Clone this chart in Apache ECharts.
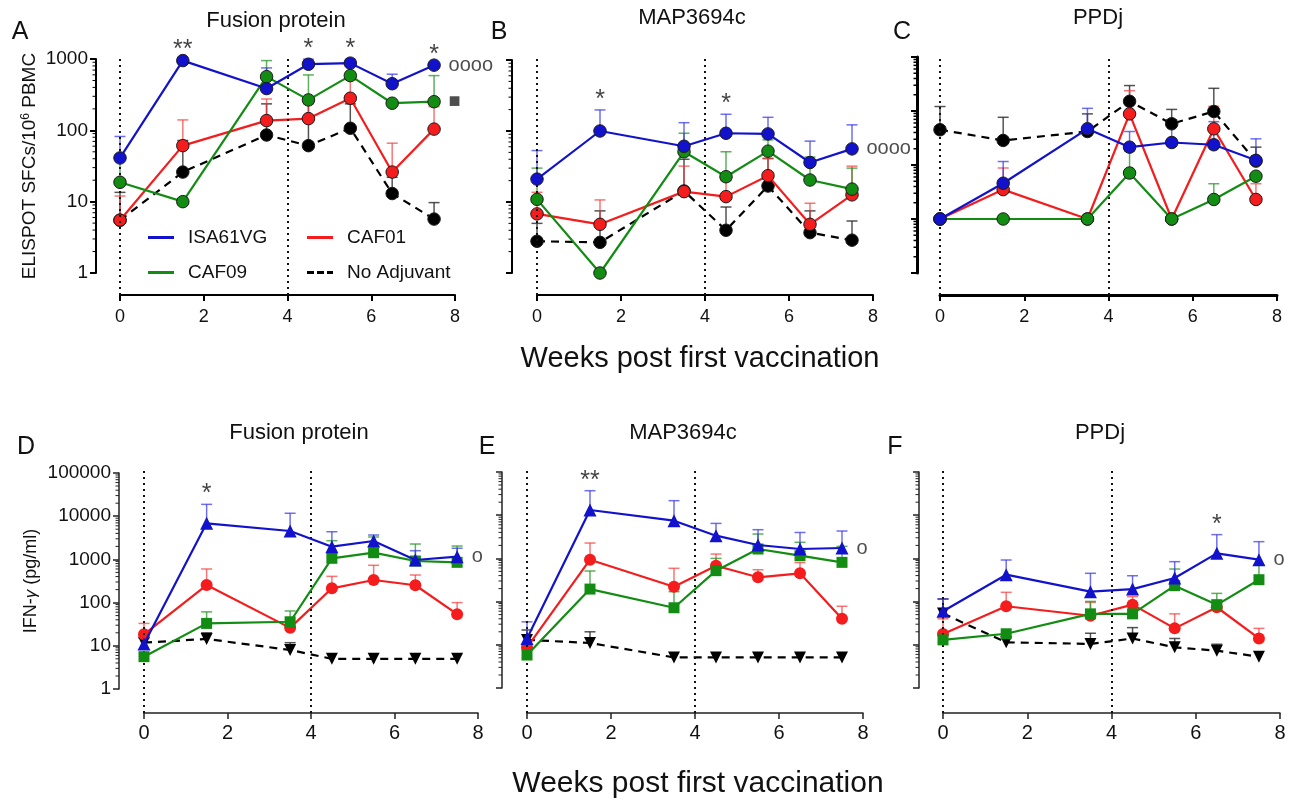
<!DOCTYPE html>
<html><head><meta charset="utf-8">
<script src="https://cdn.jsdelivr.net/npm/echarts@6/dist/echarts.min.js"></script>
<style>html,body{margin:0;padding:0;background:#fff}#c{width:1297px;height:803px}</style>
</head><body><div id="c"></div><script>
const FONT = 'Arial, "Liberation Sans", Helvetica, sans-serif';
const weeks = [0, 1.5, 3.5, 4.5, 5.5, 6.5, 7.5];
const groupNames = ['No Adjuvant', 'CAF01', 'CAF09', 'ISA61VG'];
const xTicks = [0, 2, 4, 6, 8];
const vaccinationWeeks = [0, 4];
const elispotTicks = [1, 10, 100, 1000];
const ppdjTicks = [1, 10, 100, 1000, 10000];
const ifnTicks = [1, 10, 100, 1000, 10000, 100000];

// A: ELISPOT, Fusion protein (mean, upper error)
const A_isa = [41, 950, 385, 845, 875, 450, 820];
const A_isa_err = [82, null, 750, 995, 990, 612, null];
const A_caf01 = [5.5, 61, 137, 146, 282, 26, 104];
const A_caf01_err = [12, 140, 275, 235, 510, 66, 215];
const A_caf09 = [18.7, 10, 566, 267, 585, 240, 252];
const A_caf09_err = [45, null, 950, 598, 880, null, 585];
const A_none = [5.5, 26, 86, 61, 107, 13, 5.7];
const A_none_err = [13.5, 72, 235, 250, 235, 22, 9.7];
const A_sig = [[1.5, '**'], [4.5, '*'], [5.5, '*'], [7.5, '*']];
const A_ends = [['ISA61VG', 'oooo'], ['CAF09', '■']];

// B: ELISPOT, MAP3694c
const B_isa = [21, 100, 61, 93, 91, 36, 56];
const B_isa_err = [53, 198, 131, 172, 156, 72, 122];
const B_caf01 = [6.8, 4.85, 14, 11.9, 23.5, 4.85, 12.6];
const B_caf01_err = [13.7, 10.7, 32, 20, 41, 9.6, 32];
const B_caf09 = [10.9, 1.0, 51, 22.7, 52, 20.4, 15.2];
const B_caf09_err = [30, null, 93, 51, 75, 43, 30];
const B_none = [2.8, 2.7, 14.3, 4.0, 16.8, 3.7, 2.9];
const B_none_err = [5, 7.5, 40, 8.5, 41, 7.5, 5.4];
const B_sig = [[1.5, '*'], [4.5, '*']];
const B_ends = [['ISA61VG', 'oooo']];

// C: ELISPOT, PPDj
const C_isa = [10, 46, 468, 214, 261, 237, 122];
const C_isa_err = [null, 116, 1120, 417, 690, 635, 305];
const C_caf01 = [10, 35, 10, 884, 10, 468, 23];
const C_caf01_err = [null, 88, null, 2380, null, 1220, 45];
const C_caf09 = [10, 10, 10, 71, 10, 23, 62];
const C_caf09_err = [null, null, null, 180, null, 45, null];
const C_none = [450, 285, 417, 1510, 580, 980, 118];
const C_none_err = [1210, 765, 884, 2960, 1070, 2630, 214];
const C_sig = [];
const C_ends = [];

// D: IFN-gamma, Fusion protein
const D_isa = [11, 6840, 4540, 1970, 2670, 968, 1155];
const D_isa_err = [15, 18800, 11700, 4370, 3670, 1590, 1810];
const D_caf01 = [18.4, 255, 26, 214, 333, 252, 54];
const D_caf01_err = [33, 600, 35, 405, 730, 435, 100];
const D_caf09 = [5.6, 33, 36, 1060, 1430, 918, 855];
const D_caf09_err = [null, 61, 64, 2710, 3300, 2270, 2040];
const D_none = [11.8, 14.4, 8, 5, 5, 5, 5];
const D_none_err = [null, 20, 11.8, null, null, null, null];
const D_sig = [[1.5, '*']];
const D_ends = [['ISA61VG', 'o']];

// E: IFN-gamma, MAP3694c
const E_isa = [14, 13200, 7460, 3360, 2040, 1650, 1740];
const E_isa_err = [34, 36900, 21700, 6460, 4620, 3980, 4300];
const E_caf01 = [8.75, 933, 221, 676, 365, 452, 40];
const E_caf01_err = [null, 2270, 590, 1260, 547, 800, 78];
const E_caf09 = [5.8, 195, 72, 520, 1650, 1155, 810];
const E_caf09_err = [null, 511, 170, 1000, 3670, 2360, 1900];
const E_none = [13, 11, 5.1, 5.1, 5.1, 5.1, 5.1];
const E_none_err = [22, 20, null, null, null, null, null];
const E_sig = [[1.5, '**']];
const E_ends = [['ISA61VG', 'o']];

// F: IFN-gamma, PPDj
const F_isa = [60, 420, 170, 195, 352, 1310, 933];
const F_isa_err = [115, 918, 452, 397, 840, 3550, 2440];
const F_caf01 = [17.8, 78, 47, 85, 24, 74, 14];
const F_caf01_err = [40, 164, 96, 130, 52, 110, 24];
const F_caf09 = [13, 18, 52, 52, 234, 84, 321];
const F_caf09_err = [null, null, 101, null, 568, 155, 715];
const F_none = [53, 11.4, 10.5, 14, 8.75, 7.3, 5.3];
const F_none_err = [115, null, 18.5, 25, 14, 10.3, null];
const F_sig = [[6.5, '*']];
const F_ends = [['ISA61VG', 'o']];

const styles = {
  'ISA61VG': {color: '#1212cc', err: 'rgba(50,50,235,0.7)', top: 'circle', bottom: 'triangle', bSize: 13, rot: 0},
  'CAF01': {color: '#f41c1c', err: 'rgba(245,60,60,0.7)', top: 'circle', bottom: 'circle', bSize: 12, rot: 0},
  'CAF09': {color: '#138c13', err: 'rgba(40,150,40,0.75)', top: 'circle', bottom: 'rect', bSize: 11, rot: 0},
  'No Adjuvant': {color: '#000000', err: 'rgba(40,40,40,0.8)', top: 'circle', bottom: 'triangle', bSize: 12, rot: 180}
};

const panels = [
  {title: 'Fusion protein', letter: 'A', ticks: elispotTicks, labels: true, yName: 'ELISPOT SFCs/10{s|6} PBMC', nameGap: 57,
   d: {'ISA61VG': [A_isa, A_isa_err], 'CAF01': [A_caf01, A_caf01_err], 'CAF09': [A_caf09, A_caf09_err], 'No Adjuvant': [A_none, A_none_err]},
   sig: A_sig, ends: A_ends, box: {left: 120, top: 59, width: 335, height: 214}, yOff: 24, xOff: 22, row: 0, axW: 2,
   titlePos: [276, 21], letterPos: [20, 32]},
  {title: 'MAP3694c', letter: 'B', ticks: elispotTicks, labels: false,
   d: {'ISA61VG': [B_isa, B_isa_err], 'CAF01': [B_caf01, B_caf01_err], 'CAF09': [B_caf09, B_caf09_err], 'No Adjuvant': [B_none, B_none_err]},
   sig: B_sig, ends: B_ends, box: {left: 537, top: 60, width: 336, height: 213}, yOff: 25, xOff: 22, row: 0, axW: 2,
   titlePos: [692, 18], letterPos: [499, 32]},
  {title: 'PPDj', letter: 'C', ticks: ppdjTicks, labels: false,
   d: {'ISA61VG': [C_isa, C_isa_err], 'CAF01': [C_caf01, C_caf01_err], 'CAF09': [C_caf09, C_caf09_err], 'No Adjuvant': [C_none, C_none_err]},
   sig: C_sig, ends: C_ends, box: {left: 940, top: 57, width: 337, height: 216}, yOff: 23, xOff: 22, row: 0, axW: 3,
   titlePos: [1098, 18], letterPos: [902, 32]},
  {title: 'Fusion protein', letter: 'D', ticks: ifnTicks, labels: true, yName: 'IFN-{g|γ} (pg/ml)', nameGap: 79,
   d: {'ISA61VG': [D_isa, D_isa_err], 'CAF01': [D_caf01, D_caf01_err], 'CAF09': [D_caf09, D_caf09_err], 'No Adjuvant': [D_none, D_none_err]},
   sig: D_sig, ends: D_ends, box: {left: 144, top: 473, width: 334, height: 216}, yOff: 25, xOff: 24, row: 1, axW: 1.5,
   titlePos: [299, 433], letterPos: [26, 447]},
  {title: 'MAP3694c', letter: 'E', ticks: ifnTicks, labels: false,
   d: {'ISA61VG': [E_isa, E_isa_err], 'CAF01': [E_caf01, E_caf01_err], 'CAF09': [E_caf09, E_caf09_err], 'No Adjuvant': [E_none, E_none_err]},
   sig: E_sig, ends: E_ends, box: {left: 527, top: 472, width: 336, height: 216}, yOff: 25, xOff: 25, row: 1, axW: 1.5,
   titlePos: [683, 433], letterPos: [487, 447]},
  {title: 'PPDj', letter: 'F', ticks: ifnTicks, labels: false,
   d: {'ISA61VG': [F_isa, F_isa_err], 'CAF01': [F_caf01, F_caf01_err], 'CAF09': [F_caf09, F_caf09_err], 'No Adjuvant': [F_none, F_none_err]},
   sig: F_sig, ends: F_ends, box: {left: 943, top: 472, width: 337, height: 216}, yOff: 24, xOff: 25, row: 1, axW: 1.5,
   titlePos: [1100, 433], letterPos: [895, 447]}
];

function errRender(color) {
  return function (params, api) {
    const x = api.value(0);
    const p0 = api.coord([x, api.value(1)]);
    const p1 = api.coord([x, api.value(2)]);
    const st = {stroke: color, lineWidth: 1.5};
    return {type: 'group', children: [
      {type: 'line', shape: {x1: p0[0], y1: p0[1], x2: p1[0], y2: p1[1]}, style: st},
      {type: 'line', shape: {x1: p1[0] - 5.5, y1: p1[1], x2: p1[0] + 5.5, y2: p1[1]}, style: st}
    ]};
  };
}
function minorRender(off, color, w) {
  return function (params, api) {
    const p = api.coord([api.value(0), api.value(1)]);
    const x = p[0] - off;
    return {type: 'line', shape: {x1: x - 3.5, y1: p[1], x2: x, y2: p[1]}, style: {stroke: color, lineWidth: w}};
  };
}

const option = {animation: false, backgroundColor: '#fff', grid: [], xAxis: [], yAxis: [], series: [], legend: [], graphic: []};

panels.forEach(function (p) {
  const gi = option.grid.length;
  const axColor = p.row === 0 ? '#000' : '#222';
  option.grid.push(Object.assign({containLabel: false, outerBoundsMode: 'none'}, p.box));
  option.xAxis.push({gridIndex: gi, type: 'value', min: 0, max: 8, interval: 2, offset: p.xOff,
    axisLine: {show: true, onZero: false, lineStyle: {color: axColor, width: p.axW}},
    axisTick: {show: true, length: 6, customValues: xTicks, lineStyle: {color: axColor, width: p.axW === 3 ? 2 : p.axW}},
    splitLine: {show: false},
    axisLabel: {customValues: xTicks, fontSize: p.row === 0 ? 18 : 20, color: '#111', margin: p.row === 0 ? 13 : 10, fontFamily: FONT}});
  const yax = {gridIndex: gi, type: 'log', logBase: 10, min: p.ticks[0], max: p.ticks[p.ticks.length - 1], offset: p.yOff,
    axisLine: {show: true, onZero: false, lineStyle: {color: axColor, width: p.axW}},
    axisTick: {show: true, length: 6, customValues: p.ticks, lineStyle: {color: axColor, width: p.axW === 3 ? 2 : p.axW}},
    splitLine: {show: false}, minorTick: {show: false},
    axisLabel: {show: p.labels, customValues: p.ticks, fontSize: 19, color: '#111', margin: 8, fontFamily: FONT,
      formatter: function (v) { return String(Math.round(v)); }}};
  if (p.yName) {
    yax.name = p.yName; yax.nameLocation = 'middle'; yax.nameGap = p.nameGap; yax.nameRotate = 90;
    yax.nameTextStyle = {fontSize: p.row === 0 ? 19 : 18, color: '#111', fontFamily: FONT,
      rich: {s: {fontSize: 12, verticalAlign: 'top', fontFamily: FONT, color: '#111'},
             g: {fontSize: 17, fontStyle: 'italic', fontFamily: FONT, color: '#111'}}};
  }
  option.yAxis.push(yax);

  // minor ticks on the log axis
  const minors = [];
  for (let dec = p.ticks[0]; dec < p.ticks[p.ticks.length - 1]; dec *= 10) {
    for (let k = 2; k <= 9; k++) minors.push([0, k * dec]);
  }
  option.series.push({type: 'custom', xAxisIndex: gi, yAxisIndex: gi, silent: true, clip: false, z: 1,
    data: minors, encode: {x: 0, y: 1}, renderItem: minorRender(p.yOff, axColor, p.axW === 3 ? 1.5 : 1)});

  // error bars
  groupNames.forEach(function (g) {
    const vals = p.d[g][0], errs = p.d[g][1];
    const data = [];
    weeks.forEach(function (w, k) { if (errs[k] != null) data.push([w, vals[k], errs[k]]); });
    option.series.push({type: 'custom', name: g + ' err', xAxisIndex: gi, yAxisIndex: gi, silent: true, clip: false, z: 2,
      data: data, encode: {x: 0, y: [1, 2]}, renderItem: errRender(styles[g].err)});
  });
  // lines
  groupNames.forEach(function (g, gi2) {
    const st = styles[g];
    const vals = p.d[g][0];
    const top = p.row === 0;
    option.series.push({type: 'line', name: g, xAxisIndex: gi, yAxisIndex: gi, z: 3 + gi2,
      data: weeks.map(function (w, k) { return [w, vals[k]]; }),
      symbol: top ? st.top : st.bottom, symbolSize: top ? 12.5 : st.bSize, symbolRotate: top ? 0 : st.rot,
      showSymbol: true, showAllSymbol: true,
      itemStyle: {color: st.color, borderColor: top ? '#1a1a1a' : st.color, borderWidth: top ? 1 : 0, opacity: 1},
      lineStyle: {color: st.color, width: 2.2, type: g === 'No Adjuvant' ? [8, 6] : 'solid'},
      emphasis: {disabled: true}, silent: true});
  });
  // significance asterisks above highest point
  if (p.sig.length) {
    option.series.push({type: 'scatter', xAxisIndex: gi, yAxisIndex: gi, clip: false, silent: true, z: 10,
      symbolSize: 1, itemStyle: {color: 'rgba(0,0,0,0)'},
      data: p.sig.map(function (s) {
        const k = weeks.indexOf(s[0]);
        let m = 0;
        groupNames.forEach(function (g) { m = Math.max(m, p.d[g][0][k], p.d[g][1][k] || 0); });
        return {value: [s[0], m], label: {formatter: s[1]}};
      }),
      label: {show: true, position: 'top', distance: -3, fontSize: 25, color: '#111', fontFamily: FONT}});
  }
  if (p.ends.length) {
    option.series.push({type: 'scatter', xAxisIndex: gi, yAxisIndex: gi, clip: false, silent: true, z: 10,
      symbolSize: 1, itemStyle: {color: 'rgba(0,0,0,0)'},
      data: p.ends.map(function (e) {
        const vals = p.d[e[0]][0];
        return {value: [weeks[weeks.length - 1], vals[vals.length - 1]], label: {formatter: e[1]}};
      }),
      label: {show: true, position: 'right', distance: 14, fontSize: 20, color: '#222', fontFamily: FONT}});
  }

  // overlay grid for vaccination reference lines (dotted, reaching the x axis)
  const oi = option.grid.length;
  option.grid.push({containLabel: false, outerBoundsMode: 'none', left: p.box.left, width: p.box.width,
    top: p.box.top - 2, height: p.box.height + p.xOff + 2});
  option.xAxis.push({gridIndex: oi, type: 'value', min: 0, max: 8, show: false});
  option.yAxis.push({gridIndex: oi, type: 'value', min: 0, max: 1, show: false});
  option.series.push({type: 'line', xAxisIndex: oi, yAxisIndex: oi, data: [[0, 0]], showSymbol: false, silent: true,
    lineStyle: {width: 0}, z: 1,
    markLine: {silent: true, symbol: 'none', label: {show: false},
      lineStyle: {type: [2, 4], color: '#111', width: 2},
      data: vaccinationWeeks.map(function (w) { return {xAxis: w}; })}});

  option.graphic.push({type: 'text', x: p.titlePos[0], y: p.titlePos[1],
    style: {text: p.title, font: '22px ' + FONT, fill: '#111', textAlign: 'center', textVerticalAlign: 'middle'}});
  option.graphic.push({type: 'text', x: p.letterPos[0], y: p.letterPos[1],
    style: {text: p.letter, font: '25px ' + FONT, fill: '#111', textAlign: 'center', textVerticalAlign: 'middle'}});
});

option.graphic.push({type: 'text', x: 700, y: 359,
  style: {text: 'Weeks post first vaccination', font: '29px ' + FONT, fill: '#111', textAlign: 'center', textVerticalAlign: 'middle'}});
option.graphic.push({type: 'text', x: 698, y: 784,
  style: {text: 'Weeks post first vaccination', font: '30px ' + FONT, fill: '#111', textAlign: 'center', textVerticalAlign: 'middle'}});

const solidIcon = 'path://M0,0H26V3H0Z';
const dashIcon = 'path://M0,0H7V3H0Z M10,0H17V3H10Z M20,0H26V3H20Z';
const legendPos = [['ISA61VG', 148, 228], ['CAF01', 307, 228], ['CAF09', 148, 263], ['No Adjuvant', 307, 263]];
legendPos.forEach(function (lp) {
  option.legend.push({left: lp[1], top: lp[2], padding: 0, selectedMode: false, itemWidth: 26, itemHeight: 3,
    itemStyle: {borderWidth: 0},
    textStyle: {fontSize: 19, color: '#111', fontFamily: FONT, padding: [0, 0, 0, 9]},
    data: [{name: lp[0], icon: lp[0] === 'No Adjuvant' ? dashIcon : solidIcon,
      itemStyle: {color: styles[lp[0]].color, borderWidth: 0}}]});
});

const chart = echarts.init(document.getElementById('c'), null, {renderer: 'canvas'});
chart.setOption(option);
</script></body></html>
